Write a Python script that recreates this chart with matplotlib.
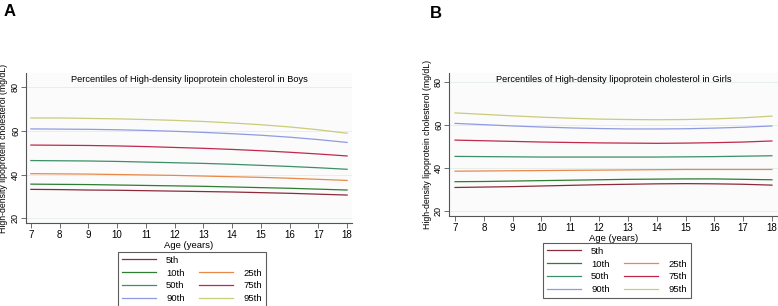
# HDL cholesterol percentile curves, boys (A) and girls (B)
import numpy as np
import matplotlib.pyplot as plt
from matplotlib.lines import Line2D

plt.rcParams['font.family'] = ['Liberation Sans', 'DejaVu Sans']

# Data
ages = [7, 8, 9, 10, 11, 12, 13, 14, 15, 16, 17, 18]
pct_labels = ['5th', '10th', '25th', '50th', '75th', '90th', '95th']

boys = {
    '5th':  [33.2, 33.1, 32.9, 32.8, 32.6, 32.4, 32.2, 32.0, 31.7, 31.4, 31.0, 30.6],
    '10th': [35.6, 35.5, 35.4, 35.2, 35.0, 34.8, 34.6, 34.3, 34.0, 33.7, 33.3, 32.9],
    '25th': [40.4, 40.3, 40.2, 40.0, 39.8, 39.6, 39.3, 39.0, 38.7, 38.3, 37.8, 37.3],
    '50th': [46.4, 46.3, 46.2, 46.0, 45.7, 45.4, 45.1, 44.7, 44.2, 43.7, 43.1, 42.4],
    '75th': [53.5, 53.4, 53.3, 53.1, 52.8, 52.4, 52.0, 51.5, 50.9, 50.2, 49.4, 48.5],
    '90th': [60.9, 60.8, 60.7, 60.5, 60.2, 59.8, 59.3, 58.7, 58.0, 57.1, 56.0, 54.7],
    '95th': [65.9, 65.9, 65.7, 65.5, 65.2, 64.8, 64.3, 63.6, 62.8, 61.8, 60.5, 58.9],
}

girls = {
    '5th':  [30.8, 31.0, 31.2, 31.5, 31.8, 32.1, 32.3, 32.5, 32.6, 32.5, 32.3, 31.9],
    '10th': [33.5, 33.6, 33.8, 34.0, 34.2, 34.4, 34.6, 34.7, 34.8, 34.8, 34.6, 34.4],
    '25th': [38.4, 38.5, 38.6, 38.7, 38.8, 38.9, 39.0, 39.1, 39.2, 39.2, 39.2, 39.2],
    '50th': [45.3, 45.2, 45.1, 45.0, 45.0, 45.0, 45.0, 45.0, 45.1, 45.2, 45.4, 45.6],
    '75th': [52.9, 52.6, 52.3, 52.0, 51.8, 51.6, 51.5, 51.4, 51.5, 51.7, 52.0, 52.5],
    '90th': [60.7, 60.1, 59.5, 59.0, 58.6, 58.3, 58.1, 58.1, 58.2, 58.5, 58.9, 59.5],
    '95th': [65.6, 64.9, 64.2, 63.6, 63.1, 62.7, 62.5, 62.4, 62.5, 62.8, 63.3, 64.1],
}

colors = {
    '5th': '#8c2a3a',
    '10th': '#2e7d32',
    '25th': '#e8894a',
    '50th': '#3d8f68',
    '75th': '#c0284c',
    '90th': '#8f9be0',
    '95th': '#c9cc7a',
}

fig = plt.figure(figsize=[7.78, 3.06], dpi=100)


def panel(rect, data, title, ylim, xlim, leg_anchor, ylab_x):
    ax = fig.add_axes(rect)
    ax.set_facecolor('#fbfbfb')
    for p in pct_labels:
        ax.plot(ages, data[p], color=colors[p], lw=0.9)
    ax.set_xlim(xlim)
    ax.set_ylim(ylim)
    ax.set_xticks(ages)
    ax.set_yticks([20, 40, 60, 80])
    ax.grid(axis='y', color='#e6eeee', lw=0.7)
    ax.set_axisbelow(True)
    for s in ['top', 'right']:
        ax.spines[s].set_visible(False)
    for s in ['left', 'bottom']:
        ax.spines[s].set_color('#555555')
        ax.spines[s].set_linewidth(0.8)
    ax.tick_params(labelsize=7, length=3.5, width=0.6, color='#555555', pad=1.5)
    ax.tick_params(axis='y', labelsize=6.5, pad=0.8)
    for lab in ax.get_yticklabels():
        lab.set_rotation(90)
        lab.set_va('center')
    ax.set_xlabel('Age (years)', fontsize=6.8, labelpad=1)
    ax.set_ylabel('High-density lipoprotein cholesterol (mg/dL)', fontsize=6.3)
    ax.yaxis.set_label_coords(ylab_x, 0.5)
    ax.text(0.5, 0.955, title, transform=ax.transAxes, ha='center', va='center', fontsize=6.7)

    # legend: 5th alone in the first row, then pairs
    h = {p: Line2D([], [], color=colors[p], lw=0.9) for p in pct_labels}
    blank = Line2D([], [], color='none')
    handles = [h['5th'], h['10th'], h['50th'], h['90th'], blank, h['25th'], h['75th'], h['95th']]
    labels = ['5th', '10th', '50th', '90th', '', '25th', '75th', '95th']
    leg = fig.legend(handles, labels, ncol=2, loc='upper left', bbox_to_anchor=leg_anchor,
                     fontsize=6.8, frameon=True, fancybox=False, edgecolor='#333333',
                     handlelength=3.6, handletextpad=1.1, columnspacing=1.5,
                     labelspacing=0.4, borderpad=0.4, borderaxespad=0)
    leg.get_frame().set_linewidth(0.8)
    return ax


panel([26 / 778, 1 - 223 / 306, 326 / 778, 150 / 306], boys,
      'Percentiles of High-density lipoprotein cholesterol in Boys',
      [17.8, 86.5], [6.83, 18.17], (118 / 778, 1 - 252 / 306), (8 - 26) / 326)
panel([449 / 778, 1 - 216 / 306, 329 / 778, 143 / 306], girls,
      'Percentiles of High-density lipoprotein cholesterol in Girls',
      [17.5, 84.2], [6.79, 18.21], (543 / 778, 1 - 243 / 306), (432 - 449) / 329)

fig.text(4 / 778, 1 - 12 / 306, 'A', fontsize=12, fontweight='bold', va='center')
fig.text(430 / 778, 1 - 14 / 306, 'B', fontsize=12, fontweight='bold', va='center')

plt.savefig('out.png', dpi=100)
